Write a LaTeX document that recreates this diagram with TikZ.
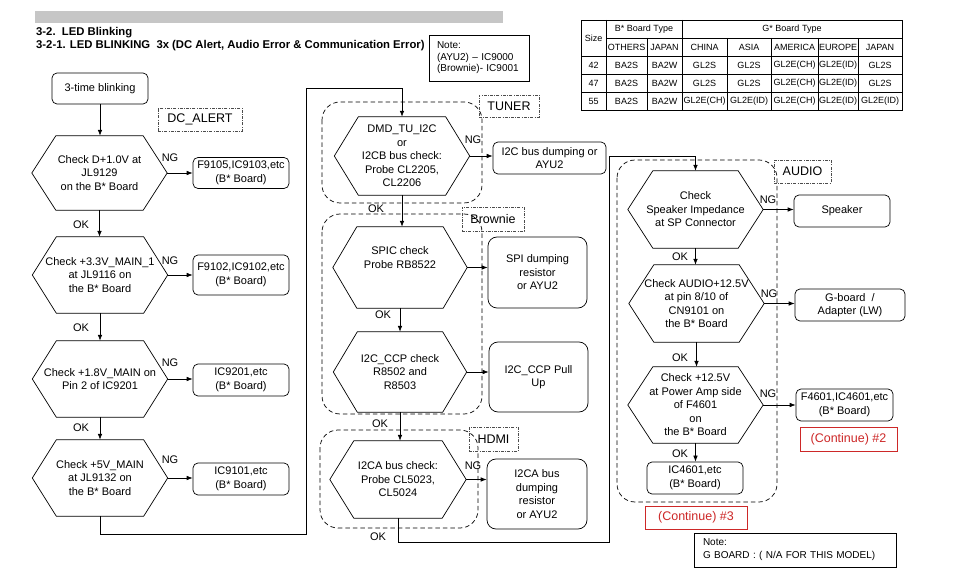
\documentclass[tikz,border=0pt]{standalone}
\usepackage{fontspec}
\setmainfont{Liberation Sans}
\usetikzlibrary{arrows.meta}
\definecolor{redc}{RGB}{205,40,40}
\newcommand\fsn{\fontsize{11}{13.5}\selectfont}
\newcommand\fst{\fontsize{9}{11}\selectfont}
\newcommand\fsl{\fontsize{12.5}{14}\selectfont}
\newcommand\fsnote{\fontsize{10}{11.5}\selectfont}
\newcommand\fstitle{\fontsize{11.3}{13}\selectfont\bfseries}
\newcommand\hexframe[2][24pt]{\draw[lnk] (#2.west) -- ([xshift=#1]#2.north west) -- ([xshift=-#1]#2.north east) -- (#2.east) -- ([xshift=-#1]#2.south east) -- ([xshift=#1]#2.south west) -- cycle;}
\begin{document}
\begin{tikzpicture}[x=1pt,y=-1pt,
 lnk/.style={draw, line width=0.7pt},
 arr/.style={lnk, -{Latex[length=6pt,width=4.6pt]}},
 hexa/.style={minimum width=135pt, minimum height=76pt, inner sep=0pt, align=center, font=\fsn},
 rbox/.style={draw, line width=0.7pt, rounded corners=5pt, align=center, font=\fsn, inner sep=0pt},
 cont/.style={draw, line width=0.7pt, dash pattern=on 4.5pt off 3pt, rounded corners=18pt},
 tag/.style={draw=black!70, line width=0.6pt, dash pattern=on 3pt off 1.3pt on 0.8pt off 1.3pt, font=\fsl, inner sep=0pt},
 lbl/.style={font=\fsn, inner sep=0pt},
 redbox/.style={draw=redc, line width=0.8pt, text=redc, font=\fsl, inner sep=0pt},
 tt/.style={font=\fst, inner sep=0pt},
 tline/.style={line width=0.6pt}
]
\useasboundingbox (0,0) rectangle (962,569);
\fill[white] (0,0) rectangle (962,569);

% header
\fill[gray!45] (35,11) rectangle (503,23);
\node[anchor=west, font=\fstitle, inner sep=0pt] (t1) at (36,33) {3-2.\ \ LED Blinking};
\node[anchor=west, font=\fstitle, inner sep=0pt] (t2) at (36,46) {3-2-1. LED BLINKING\ \ 3x (DC Alert, Audio Error \& Communication Error)};
\node[draw, line width=0.7pt, minimum width=100pt, minimum height=46pt, inner xsep=8pt, text width=84pt, align=left, font=\fsnote] (note1) at (479,58) {Note:\\(AYU2) – IC9000\\(Brownie)- IC9001};

% table
\draw[tline] (581,20) rectangle (902,110);
\draw[tline] (606,38) -- (902,38);
\foreach \y in {56,74,92} \draw[tline] (581,\y) -- (902,\y);
\foreach \x in {606,682} \draw[tline] (\x,20) -- (\x,110);
\foreach \x in {647,727,771,818,858} \draw[tline] (\x,38) -- (\x,110);
\node[tt] (tsize) at (593.5,38) {Size};
\node[tt] (tb) at (644,29) {B* Board Type};
\node[tt] (tg) at (792,29) {G* Board Type};
\foreach \xx/\t [count=\i] in {626.5/OTHERS,664.5/JAPAN,704.5/CHINA,749/ASIA,794.5/AMERICA,838/EUROPE,880/JAPAN}
  \node[tt] (th\i) at (\xx,47) {\t};
\node[tt] (s42) at (593.5,65) {42};
\node[tt] (s47) at (593.5,83) {47};
\node[tt] (s55) at (593.5,101) {55};
\foreach \xx/\t [count=\i] in {626.5/BA2S,664.5/BA2W,704.5/GL2S,749/GL2S,794.5/GL2E(CH),838/GL2E(ID),880/GL2S}
  \node[tt] (ra\i) at (\xx,65) {\t};
\foreach \xx/\t [count=\i] in {626.5/BA2S,664.5/BA2W,704.5/GL2S,749/GL2S,794.5/GL2E(CH),838/GL2E(ID),880/GL2S}
  \node[tt] (rb\i) at (\xx,83) {\t};
\foreach \xx/\t [count=\i] in {626.5/BA2S,664.5/BA2W,704.5/GL2E(CH),749/GL2E(ID),794.5/GL2E(CH),838/GL2E(ID),880/GL2E(ID)}
  \node[tt] (rc\i) at (\xx,101) {\t};

% ---------- left column: DC_ALERT
\node[rbox, minimum width=96pt, minimum height=31pt] (start) at (100,88.5) {3-time blinking};
\node[tag, minimum width=84pt, minimum height=23pt] (dcalert) at (200,119.5) {DC\_ALERT};

\node[hexa, minimum height=74pt] (h1) at (99.5,173) {Check D+1.0V at\\JL9129\\on the B* Board};
\hexframe{h1}
\node[rbox, minimum width=96pt, minimum height=31pt] (b1) at (241,173) {F9105,IC9103,etc\\(B* Board)};

\node[hexa] (h2) at (100,275) {Check +3.3V\_MAIN\_1\\at JL9116 on\\the B* Board};
\hexframe{h2}
\node[rbox, minimum width=96pt, minimum height=40pt] (b2) at (241,275) {F9102,IC9102,etc\\(B* Board)};

\node[hexa] (h3) at (100,379) {Check +1.8V\_MAIN on\\Pin 2 of IC9201};
\hexframe{h3}
\node[rbox, minimum width=96pt, minimum height=32pt] (b3) at (241,380) {IC9201,etc\\(B* Board)};

\node[hexa] (h4) at (100,478) {Check +5V\_MAIN\\at JL9132 on\\the B* Board};
\hexframe{h4}
\node[rbox, minimum width=96pt, minimum height=32pt] (b4) at (241,479) {IC9101,etc\\(B* Board)};

\draw[arr] (start.south) -- (start.south |- h1.north);
\draw[arr] (h1.east) -- (h1.east -| b1.west);
\draw[arr] (h1.south) -- (h1.south |- h2.north);
\draw[arr] (h2.east) -- (h2.east -| b2.west);
\draw[arr] (h2.south) -- (h2.south |- h3.north);
\draw[arr] (h3.east) -- (h3.east -| b3.west);
\draw[arr] (h3.south) -- (h3.south |- h4.north);
\draw[arr] (h4.east) -- (h4.east -| b4.west);
\node[lbl] (ng1) at (170,158) {NG};
\node[lbl] (ng2) at (170,261) {NG};
\node[lbl] (ng3) at (170,363) {NG};
\node[lbl] (ng4) at (170,460) {NG};
\node[lbl] (ok1) at (81,225) {OK};
\node[lbl] (ok2) at (81,328) {OK};
\node[lbl] (ok3) at (81,428) {OK};

% ---------- middle column
\draw[cont] (322,102) rectangle (482,203);
\draw[cont] (322,214) rectangle (482,414);
\draw[cont] (320,430) rectangle (478,528);
\node[tag, minimum width=60pt, minimum height=22pt] (tuner) at (509,106) {TUNER};
\node[tag, minimum width=62pt, minimum height=24pt] (brownie) at (493,219) {Brownie};
\node[tag, minimum width=49pt, minimum height=24pt] (hdmi) at (493.5,439) {HDMI};

\node[hexa, minimum height=78pt] (dmd) at (402,156) {DMD\_TU\_I2C\\or\\I2CB bus check:\\Probe CL2205,\\CL2206};
\hexframe{dmd}
\node[rbox, minimum width=113pt, minimum height=32pt] (bi2c) at (549.5,158) {I2C bus dumping or\\AYU2};

\node[hexa, minimum width=134pt, minimum height=81pt] (spic) at (400,267.5) {SPIC check\\Probe RB8522\\[6pt]};
\hexframe{spic}
\node[rbox, minimum width=99pt, minimum height=71pt, rounded corners=9pt] (bspi) at (537.5,272.5) {SPI dumping\\resistor\\or AYU2};

\node[hexa, minimum width=133pt, minimum height=80pt] (ccp) at (400,372) {I2C\_CCP check\\R8502 and\\R8503};
\hexframe{ccp}
\node[rbox, minimum width=99pt, minimum height=70pt, rounded corners=9pt] (bccp) at (538.5,377) {I2C\_CCP Pull\\Up};

\node[hexa, minimum width=136pt, minimum height=77pt] (i2ca) at (398,479.5) {I2CA bus check:\\Probe CL5023,\\CL5024};
\hexframe{i2ca}
\node[rbox, minimum width=100pt, minimum height=70pt, rounded corners=9pt] (bi2ca) at (537,494) {I2CA bus\\dumping\\resistor\\or AYU2};

\draw[arr] (h4.south) -- ++(0,18) -| (306,88) -| (dmd.north);
\draw[arr] (dmd.east) -- (dmd.east -| bi2c.west);
\draw[arr] (dmd.south) -- (dmd.south |- spic.north);
\draw[arr] (spic.east) -- (spic.east -| bspi.west);
\draw[arr] (spic.south) -- (spic.south |- ccp.north);
\draw[arr] (ccp.east) -- (ccp.east -| bccp.west);
\draw[arr] (ccp.south) -- (ccp.south |- i2ca.north);
\draw[arr] (i2ca.east) -- (i2ca.east -| bi2ca.west);
\node[lbl] (ng5) at (473,140) {NG};
\node[lbl] (ng6) at (473,466) {NG};
\node[lbl] (ok4) at (376,209) {OK};
\node[lbl] (ok5) at (383,315) {OK};
\node[lbl] (ok6) at (380,424) {OK};
\node[lbl] (ok7) at (378,537) {OK};

% ---------- right column: AUDIO
\draw[cont] (617,160) rectangle (777,502);
\node[tag, minimum width=57pt, minimum height=23pt] (audio) at (802.5,171.5) {AUDIO};

\node[hexa, minimum height=77pt] (spk) at (695.5,209.5) {Check\\Speaker Impedance\\at SP Connector};
\hexframe[25pt]{spk}
\node[rbox, minimum width=96pt, minimum height=32pt] (bspk) at (842,211) {Speaker};

\node[hexa, minimum height=77pt] (aud) at (696.5,303.5) {Check AUDIO+12.5V\\at pin 8/10 of\\CN9101 on\\the B* Board};
\hexframe[25pt]{aud}
\node[rbox, minimum width=110pt, minimum height=32pt] (bg) at (850,305) {G-board\ \ /\\Adapter (LW)};

\node[hexa, minimum height=76pt] (p125) at (695.5,405) {Check +12.5V\\at Power Amp side\\of F4601\\on\\the B* Board};
\hexframe[25pt]{p125}
\node[rbox, minimum width=97pt, minimum height=32pt] (bf) at (844.5,405) {F4601,IC4601,etc\\(B* Board)};
\node[redbox, minimum width=97pt, minimum height=24pt] (cont2) at (848.5,439) {(Continue) \#2};

\node[rbox, minimum width=96pt, minimum height=32pt] (bic) at (695,478) {IC4601,etc\\(B* Board)};
\node[redbox, minimum width=102pt, minimum height=23pt] (cont3) at (696,517.5) {(Continue) \#3};

\node[draw, line width=0.7pt, minimum width=202pt, minimum height=34pt, inner xsep=9pt, text width=184pt, align=left, font=\fontsize{10}{13}\selectfont] (noteg) at (795,550) {Note:\\G BOARD : ( N/A FOR THIS MODEL)};

\draw[arr] (i2ca.south) -- ++(0,24) -| (609,156) -| (spk.north);
\draw[arr] (spk.east) -- (spk.east -| bspk.west);
\draw[arr] (spk.south) -- (spk.south |- aud.north);
\draw[arr] (aud.east) -- (aud.east -| bg.west);
\draw[arr] (aud.south) -- (aud.south |- p125.north);
\draw[arr] (p125.east) -- (p125.east -| bf.west);
\draw[arr] (p125.south) -- (p125.south |- bic.north);
\node[lbl] (ng7) at (768,200) {NG};
\node[lbl] (ng8) at (769,294) {NG};
\node[lbl] (ng9) at (768,394) {NG};
\node[lbl] (ok8) at (680,257) {OK};
\node[lbl] (ok9) at (680,358) {OK};
\node[lbl] (ok10) at (680,454) {OK};
\end{tikzpicture}
\end{document}
